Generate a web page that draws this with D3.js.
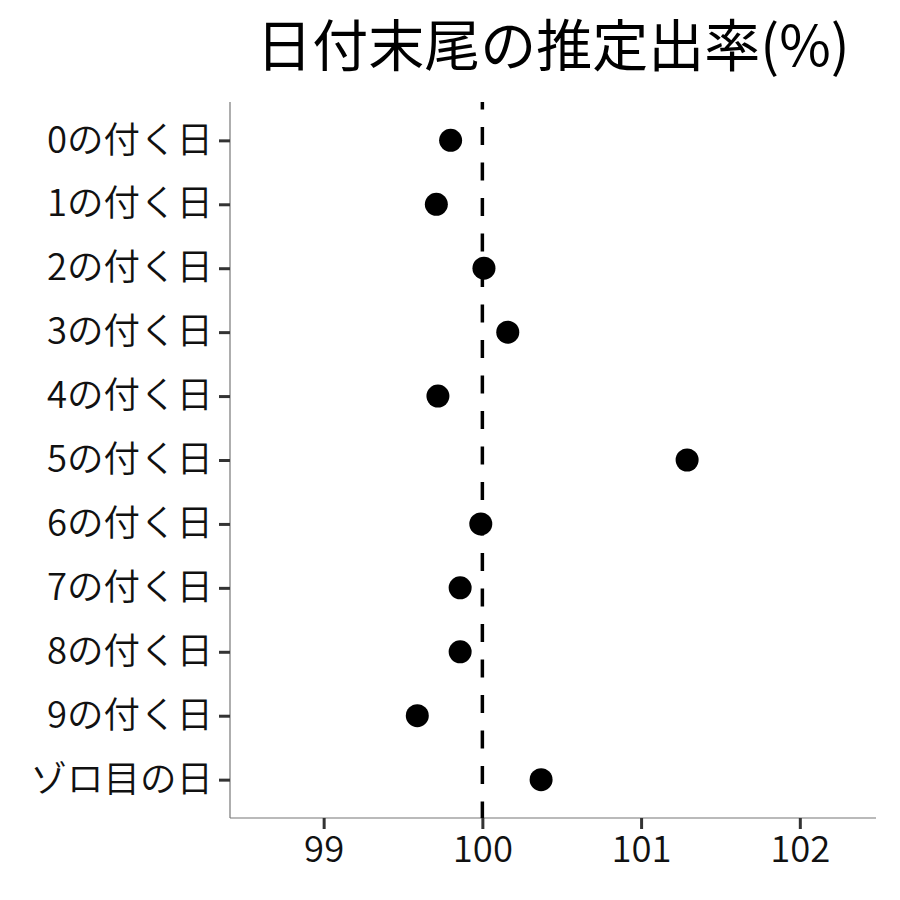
<!DOCTYPE html>
<html>
<head>
<meta charset="utf-8">
<script src="https://cdn.jsdelivr.net/npm/d3@7"></script>
<style>
  body { margin: 0; background: #fff; }
  text { font-family: "Noto Sans CJK JP", "Noto Sans", sans-serif; }
</style>
</head>
<body>
<svg id="chart"></svg>
<script>
// data
const categories = ["0の付く日", "1の付く日", "2の付く日", "3の付く日", "4の付く日",
    "5の付く日", "6の付く日", "7の付く日", "8の付く日", "9の付く日", "ゾロ目の日"];
const rates = [99.80, 99.71, 100.01, 100.16, 99.72, 101.29, 99.99, 99.86, 99.86, 99.59, 100.37];
const xTicks = [99, 100, 101, 102];
const refLine = 100;
const xDomain = [98.41, 102.48];
const title = "日付末尾の推定出率(%)";

const width = 900, height = 900;
const margin = { top: 102, right: 24, bottom: 82, left: 230 };

const svg = d3.select("#chart")
    .attr("width", width)
    .attr("height", height);

const data = categories.map((c, i) => ({ label: c, value: rates[i] }));

const x = d3.scaleLinear()
    .domain(xDomain)
    .range([margin.left, width - margin.right]);

const y = d3.scalePoint()
    .domain(categories)
    .range([margin.top, height - margin.bottom])
    .padding(0.6);

// axis lines
svg.append("line")
    .attr("x1", margin.left).attr("x2", margin.left)
    .attr("y1", margin.top).attr("y2", height - margin.bottom)
    .attr("stroke", "#777").attr("stroke-width", 1.2);
svg.append("line")
    .attr("x1", margin.left).attr("x2", width - margin.right)
    .attr("y1", height - margin.bottom).attr("y2", height - margin.bottom)
    .attr("stroke", "#777").attr("stroke-width", 1.2);

// x axis
const xAxis = d3.axisBottom(x)
    .tickValues(xTicks)
    .tickSize(11)
    .tickPadding(7)
    .tickFormat(d3.format("d"));
const xg = svg.append("g")
    .attr("transform", `translate(0,${height - margin.bottom})`)
    .call(xAxis);
xg.select(".domain").remove();
xg.selectAll(".tick line").attr("stroke", "#333").attr("stroke-width", 3);
xg.selectAll(".tick text")
    .attr("font-size", 36.5)
    .attr("fill", "#111")
    .style("font-family", '"Noto Sans CJK JP", sans-serif')
    .style("font-weight", 350);

// y axis
const yAxis = d3.axisLeft(y)
    .tickSize(11)
    .tickPadding(6);
const yg = svg.append("g")
    .attr("transform", `translate(${margin.left},0)`)
    .call(yAxis);
yg.select(".domain").remove();
yg.selectAll(".tick line").attr("stroke", "#333").attr("stroke-width", 3);
yg.selectAll(".tick text")
    .attr("font-size", 36.5)
    .attr("fill", "#111")
    .style("font-family", '"Noto Sans CJK JP", sans-serif')
    .style("font-weight", 350);

// reference line at 100
svg.append("line")
    .attr("x1", x(refLine)).attr("x2", x(refLine))
    .attr("y1", margin.top).attr("y2", height - margin.bottom)
    .attr("stroke", "#000")
    .attr("stroke-width", 3.5)
    .attr("stroke-dasharray", "18,17.5")
    .attr("stroke-dashoffset", 10.5);

// points
svg.append("g")
    .selectAll("circle")
    .data(data)
    .join("circle")
    .attr("cx", d => x(d.value))
    .attr("cy", d => y(d.label))
    .attr("r", 11.5)
    .attr("fill", "#000");

// title
svg.append("text")
    .attr("x", (margin.left + width - margin.right) / 2)
    .attr("y", 66)
    .attr("text-anchor", "middle")
    .attr("font-size", 56)
    .attr("fill", "#000")
    .style("font-weight", 400)
    .text(title);
</script>
</body>
</html>
